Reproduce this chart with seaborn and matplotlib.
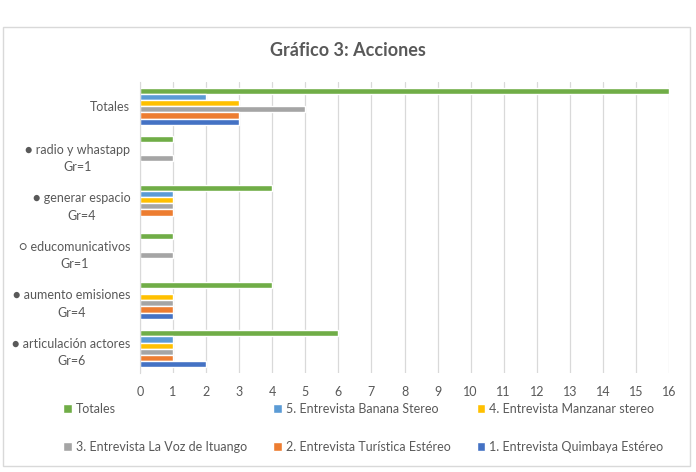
import numpy as np
import pandas as pd
import matplotlib.pyplot as plt
import seaborn as sns
from matplotlib.patches import Rectangle

## Data
categorias = ['Totales',
              '● radio y whastapp\nGr=1',
              '● generar espacio\nGr=4',
              '○ educomunicativos\nGr=1',
              '● aumento emisiones\nGr=4',
              '● articulación actores\nGr=6']

series = ['Totales',
          '5. Entrevista Banana Stereo',
          '4. Entrevista Manzanar stereo',
          '3. Entrevista La Voz de Ituango',
          '2. Entrevista Turística Estéreo',
          '1. Entrevista Quimbaya Estéreo']

totales = [16, 1, 4, 1, 4, 6]
banana = [2, 0, 1, 0, 0, 1]
manzanar = [3, 0, 1, 0, 1, 1]
la_voz = [5, 1, 1, 1, 1, 1]
turistica = [3, 0, 1, 0, 1, 1]
quimbaya = [3, 0, 0, 0, 1, 2]

colores = ['#70AD47', '#5B9BD5', '#FFC000', '#A5A5A5', '#ED7D31', '#4472C4']

valores = [totales, banana, manzanar, la_voz, turistica, quimbaya]
rows = []
for s, vals in zip(series, valores):
    for c, v in zip(categorias, vals):
        rows.append({'Categoria': c, 'Serie': s, 'Valor': v})
df = pd.DataFrame(rows)

sns.set_style('white')
plt.rcParams['font.family'] = ['Lato', 'DejaVu Sans']

fig = plt.figure(figsize=(6.96, 4.72), dpi=100)
ax = fig.add_axes([140 / 696, 1 - 373 / 472, 529 / 696, 291 / 472])

sns.barplot(data=df, y='Categoria', x='Valor', hue='Serie', order=categorias,
            hue_order=series, palette=colores, orient='h', width=0.76,
            saturation=1, ax=ax, legend=True)

ax.set_xlim(0, 16)
ax.set_xticks(range(0, 17))
ax.set_xlabel('')
ax.set_ylabel('')
ax.grid(axis='x', color='#D9D9D9', linewidth=0.9)
ax.set_axisbelow(True)
for sp in ['top', 'right', 'bottom']:
    ax.spines[sp].set_visible(False)
ax.spines['left'].set_color('#D9D9D9')
ax.tick_params(axis='x', length=0, labelsize=9, colors='#595959', pad=9)
ax.tick_params(axis='y', length=0, labelsize=9, colors='#595959', pad=7)
for lbl in ax.get_yticklabels():
    lbl.set_multialignment('center')
    lbl.set_linespacing(1.55)

## legend in rows like the original
handles, labels = ax.get_legend_handles_labels()
ax.get_legend().remove()
orden = [0, 3, 1, 4, 2, 5]
fig.legend([handles[i] for i in orden], [labels[i] for i in orden],
           loc='center', bbox_to_anchor=(0.522, 0.094), ncol=3, frameon=False,
           fontsize=9, labelcolor='#595959', handlelength=0.7, handleheight=0.7,
           handletextpad=0.3, columnspacing=2.1, labelspacing=2.1)

fig.text(0.5, 0.894, 'Gráfico 3: Acciones', ha='center', va='center',
         fontsize=13, fontweight='bold', color='#595959')

fig.patches.append(Rectangle((3 / 696, 1 - 466 / 472), 687 / 696, 439 / 472,
                             transform=fig.transFigure, fill=False,
                             edgecolor='#D9D9D9', linewidth=1))

fig.savefig('out.png', dpi=100)
